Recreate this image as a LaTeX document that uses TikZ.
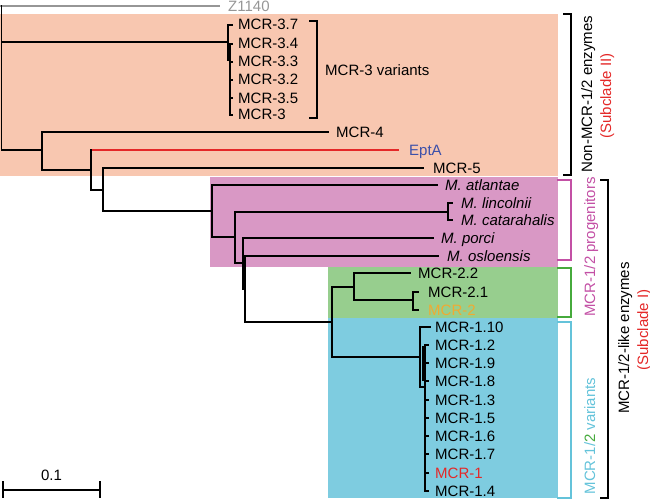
\documentclass[tikz,border=0pt]{standalone}
\usepackage{fontspec}
\setmainfont{Liberation Sans}
\definecolor{bgpeach}{RGB}{248,199,176}
\definecolor{bgpink}{RGB}{217,152,197}
\definecolor{bggreen}{RGB}{151,206,142}
\definecolor{bgblue}{RGB}{126,204,224}
\definecolor{tmag}{RGB}{195,80,165}
\definecolor{tcyan}{RGB}{100,195,218}
\definecolor{tgreen}{RGB}{70,170,60}
\definecolor{tred}{RGB}{228,40,40}
\definecolor{torange}{RGB}{240,170,50}
\definecolor{tblue}{RGB}{60,80,170}
\definecolor{tgray}{RGB}{150,150,150}
\begin{document}
\begin{tikzpicture}[x=1pt,y=-1pt,
  br/.style={line width=1.5pt, black, line cap=rect},
  bk/.style={line width=1.3pt},
  lab/.style={anchor=base west, inner sep=0pt, font=\fontsize{15}{18}\selectfont},
  rlab/.style={anchor=base, inner sep=0pt, rotate=90, font=\fontsize{15}{18}\selectfont}]
\useasboundingbox (0,0) rectangle (650,500);
% backgrounds
\fill[bgpeach] (0,14) rectangle (558,176);
\fill[bgpink] (210,177) rectangle (558,267);
\fill[bggreen] (328,267) rectangle (558,318);
\fill[bgblue] (328,318) rectangle (558,498);
% outgroup
\draw[line width=1.5pt, tgray] (0,6) -- (220,6);
\node[lab, text=tgray] (z1140) at (228,11.5) {Z1140};
% root
\draw[br] (1.5,6) -- (1.5,150);
% MCR-3 clade
\draw[br] (1.5,42) -- (228,42);
\draw[br] (228,25) -- (228,60);
\draw[br] (228,25) -- (232,25);
\draw[br] (228,60) -- (230,60);
\draw[br] (230,44) -- (230,115);
\foreach \yy in {44,62,80,98,115} \draw[br] (230,\yy) -- (232,\yy);
\node[lab] (m37) at (238,30) {MCR-3.7};
\node[lab] (m34) at (238,49) {MCR-3.4};
\node[lab] (m33) at (238,67) {MCR-3.3};
\node[lab] (m32) at (238,85) {MCR-3.2};
\node[lab] (m35) at (238,103) {MCR-3.5};
\node[lab] (m3) at (238,120) {MCR-3};
\draw[bk] (309,21) -- (317,21) -- (317,118) -- (309,118);
\node[lab] (m3var) at (325,76) {MCR-3 variants};
% second clade
\draw[br] (1.5,150) -- (42,150);
\draw[br] (42,132) -- (42,170);
\draw[br] (42,132) -- (328,132);
\node[lab] (m4) at (336,137) {MCR-4};
\draw[br] (42,170) -- (91,170);
\draw[br] (91,150) -- (91,190);
\draw[line width=1.5pt, tred] (92,150) -- (399,150);
\node[lab, text=tblue] (epta) at (409,155) {EptA};
\draw[br] (91,190) -- (103,190);
\draw[br] (103,168) -- (103,211);
\draw[br] (103,168) -- (423,168);
\node[lab] (m5) at (433,173) {MCR-5};
\draw[br] (103,211) -- (212,211);
\draw[br] (212,185) -- (212,237);
\draw[br] (212,185) -- (437,185);
\node[lab] (atl) at (445,190) {\itshape M. atlantae};
\draw[br] (212,237) -- (235,237);
\draw[br] (235,212) -- (235,263);
\draw[br] (235,212) -- (448,212);
\draw[br] (448,203) -- (448,220);
\draw[br] (448,203) -- (452,203);
\draw[br] (448,220) -- (452,220);
\node[lab] (lin) at (461,208) {\itshape M. lincolnii};
\node[lab] (cat) at (461,225) {\itshape M. catarahalis};
\draw[br] (235,263) -- (243,263);
\draw[br] (243,238) -- (243,289);
\draw[br] (243,238) -- (433,238);
\node[lab] (por) at (441,243) {\itshape M. porci};
\draw[br] (243,289) -- (245,289);
\draw[br] (245,256) -- (245,322);
\draw[br] (245,256) -- (438,256);
\node[lab] (osl) at (447,261) {\itshape M. osloensis};
% MCR-1/2
\draw[br] (245,322) -- (332,322);
\draw[br] (332,287) -- (332,357);
\draw[br] (332,287) -- (354,287);
\draw[br] (354,273) -- (354,300);
\draw[br] (354,273) -- (410,273);
\node[lab] (m22) at (418,278) {MCR-2.2};
\draw[br] (354,300) -- (413,300);
\draw[br] (413,292) -- (413,310);
\draw[br] (413,292) -- (418,292);
\draw[br] (413,310) -- (418,310);
\node[lab] (m21) at (428,297) {MCR-2.1};
\node[lab, text=torange] (m2) at (428,315) {MCR-2};
\draw[br] (332,357) -- (420,357);
\draw[br] (420,327) -- (420,387);
\draw[br] (420,327) -- (430,327);
\node[lab] (m110) at (435,332) {MCR-1.10};
\draw[br] (420,387) -- (425,387);
\draw[br] (425,345) -- (425,491);
\draw[br] (423,347) -- (423,380);
\foreach \yy in {345,363,381,400,418,436,454,473,491} \draw[br] (425,\yy) -- (428,\yy);
\node[lab] (m12) at (435,350) {MCR-1.2};
\node[lab] (m19) at (435,368) {MCR-1.9};
\node[lab] (m18) at (435,386) {MCR-1.8};
\node[lab] (m13) at (435,405) {MCR-1.3};
\node[lab] (m15) at (435,423) {MCR-1.5};
\node[lab] (m16) at (435,441) {MCR-1.6};
\node[lab] (m17) at (435,459) {MCR-1.7};
\node[lab, text=tred] (m1) at (435,478) {MCR-1};
\node[lab] (m14) at (435,496) {MCR-1.4};
% right brackets
\draw[bk] (563,14) -- (571,14) -- (571,175) -- (563,175);
\node[rlab] (nonmcr) at (592,94) {Non-MCR-1/2 enzymes};
\node[rlab, text=tred] (sub2) at (611,96) {(Subclade II)};
\draw[bk, tmag] (557,180) -- (571,180) -- (571,260) -- (557,260);
\draw[bk, tgreen] (557,268) -- (571,268) -- (571,317) -- (557,317);
\draw[bk, tcyan] (557,322) -- (571,322) -- (571,498) -- (557,498);
\node[rlab, text=tmag] (prog) at (595,247) {MCR-1/2 progenitors};
\node[rlab] (var) at (595,436) {\textcolor{tcyan}{MCR-1/}\textcolor{tgreen}{2}\textcolor{tcyan}{\ variants}};
\draw[bk] (600,180) -- (608,180) -- (608,498) -- (600,498);
\node[rlab] (like) at (629,338) {MCR-1/2-like enzymes};
\node[rlab, text=tred] (sub1) at (648,330) {(Subclade I)};
% scale bar
\draw[bk] (3,490) -- (100,490);
\draw[bk] (3,481) -- (3,498);
\draw[bk] (100,481) -- (100,498);
\node[anchor=base, inner sep=0pt, font=\fontsize{15}{18}\selectfont] (scale) at (51.5,480) {0.1};
\end{tikzpicture}
\end{document}
